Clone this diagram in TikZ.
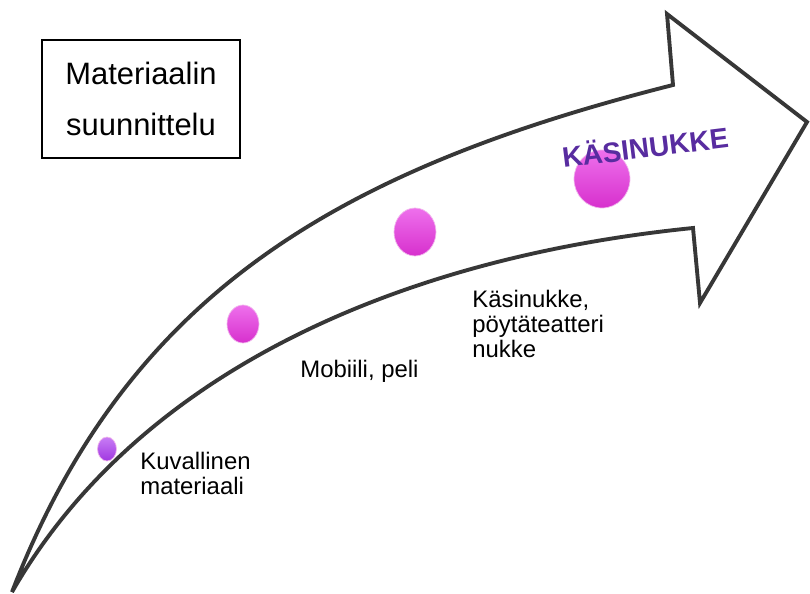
\documentclass[tikz,border=0pt]{standalone}
\usepackage{fontspec}
\setmainfont{Liberation Sans}
\definecolor{outline}{RGB}{55,55,55}
\definecolor{beadpink}{RGB}{215,48,205}
\definecolor{beadlight}{RGB}{238,112,236}
\definecolor{beadviolet}{RGB}{160,55,225}
\definecolor{beadlilac}{RGB}{200,125,245}
\definecolor{headpurple}{RGB}{88,44,160}

\begin{document}
\begin{tikzpicture}[x = 0.02cm, y = -0.02cm,
        shaft/.style = {line width=2.2pt, draw=outline, fill=white, line join=miter},
        label/.style = {anchor=north west, inner sep=0pt, align=left, font=\fontsize{13.6}{14.2}\selectfont},
        bead/.style = {top color=beadlight, bottom color=beadpink, draw=beadpink!35!white, line width=0.4pt}]
            \useasboundingbox (0,0) rectangle (810,594);

            \draw[shaft] (12,592) .. controls (127,294) and (337,170) .. (673,85)
                -- (667,14) -- (807,122) -- (700,303) -- (693,228)
                .. controls (396,258) and (137,374) .. (12,592) -- cycle;

            \shadedraw[bead, top color=beadlilac, bottom color=beadviolet] (107,449) ellipse (0.19cm and 0.24cm);
            \shadedraw[bead] (243,324) ellipse (0.32cm and 0.38cm);
            \shadedraw[bead] (415,232) ellipse (0.42cm and 0.48cm);
            \shadedraw[bead] (602,179) ellipse (0.56cm and 0.58cm);

            \node[rotate=7, text=headpurple, font=\bfseries\fontsize{16}{16}\selectfont] (goal) at (645,146) {KÄSINUKKE};

            \node[label] (kuva) at (140,452) {Kuvallinen\\materiaali};
            \node[label] (mobi) at (300,360) {Mobiili, peli};
            \node[label] (kasi) at (472,290) {Käsinukke,\\pöytäteatteri\\nukke};

            \node[draw, line width=0.75pt, minimum width=3.96cm, minimum height=2.36cm, align=center,
                font=\fontsize{17.6}{28.9}\selectfont] (title) at (141,99) {Materiaalin\\suunnittelu};
        \end{tikzpicture}
\end{document}
